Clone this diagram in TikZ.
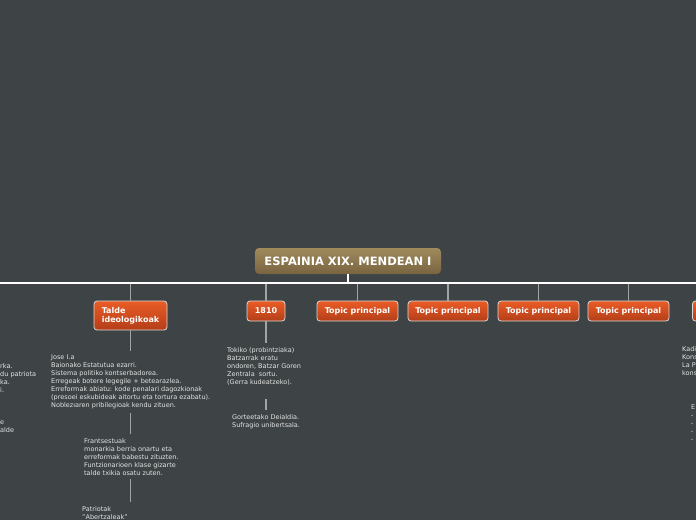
\documentclass[tikz,border=0pt]{standalone}
\usepackage{fontspec}
\setmainfont{DejaVu Sans}
\definecolor{bg}{HTML}{3E4445}
\definecolor{rootTop}{HTML}{A08A5C}
\definecolor{rootBot}{HTML}{786441}
\definecolor{topicTop}{HTML}{EA5C27}
\definecolor{topicBot}{HTML}{B33E18}
\definecolor{topicBorder}{HTML}{DADADA}
\definecolor{lineGray}{HTML}{A2A4A4}
\definecolor{descText}{HTML}{E4E4E4}
\tikzset{
  rootbox/.style={rounded corners=4pt, top color=rootTop, bottom color=rootBot, draw=none,
    minimum width=186pt, minimum height=26pt, inner sep=0pt,
    font=\bfseries\fontsize{11.5}{12}\selectfont, text=white},
  topicbox/.style={rounded corners=3pt, top color=topicTop, bottom color=topicBot,
    draw=topicBorder, line width=0.8pt, minimum height=20pt, inner sep=0pt,
    font=\bfseries\fontsize{8}{9}\selectfont, text=white},
  desc/.style={font=\fontsize{6.5}{8}\selectfont, text=descText, align=left,
    inner xsep=0pt, inner ysep=4pt, anchor=north west},
  conn/.style={draw=lineGray, line width=1.2pt},
  mainline/.style={draw=white, line width=1.8pt}
}
\begin{document}
\begin{tikzpicture}[x=1pt,y=-1pt]
\clip (0,0) rectangle (696,520);
\fill[bg] (0,0) rectangle (696,520);

% root
\node[rootbox] (root) at (348,261) {ESPAINIA XIX. MENDEAN I};
\coordinate (hl) at (0,283);
\coordinate (hr) at (696,283);

% topics
\node[topicbox, minimum width=73pt, minimum height=29pt, align=left] (t1) at (130.5,315.5) {Talde\\ideologikoak};
\node[topicbox, minimum width=38pt] (t2) at (266,311) {1810};
\node[topicbox, minimum width=81pt] (t3) at (357.5,311) {Topic principal};
\node[topicbox, minimum width=80pt] (t4) at (448,311) {Topic principal};
\node[topicbox, minimum width=81pt] (t5) at (538.5,311) {Topic principal};
\node[topicbox, minimum width=81pt] (t6) at (628.5,311) {Topic principal};
\node[topicbox, minimum width=81pt] (t7) at (733,311) {};

% connectors from main line to topics
\foreach \t in {t1,t2,t3,t4,t5,t6,t7}{
  \draw[conn] (\t.north) -- (\t.north |- hl);
}
\draw[mainline] (hl) -- (hr);
\draw[mainline, line width=1.5pt] (root.south) -- (root.south |- hl);

% Talde ideologikoak column
\node[desc] (d1) at (51,351) {Jose I.a\\
Baionako Estatutua ezarri.\\
Sistema politiko kontserbadorea.\\
Erregeak botere legegile + betearazlea.\\
Erreformak abiatu: kode penalari dagozkionak\\
(presoei eskubideak aitortu eta tortura ezabatu).\\
Noblezıaren pribilegioak kendu zituen.};
\node[desc] (d2) at (84,434) {Frantsestuak\\
monarkia berria onartu eta\\
erreformak babestu zituzten.\\
Funtzionarioen klase gizarte\\
talde txikia osatu zuten.};
\node[desc] (d3) at (82,502) {Patriotak\\
"Abertzaleak"};
\draw[conn] (t1.south) -- (t1.south |- d1.north);
\draw[conn] (d1.south -| t1.south) -- (t1.south |- d2.north);
\draw[conn] (d2.south -| t1.south) -- (t1.south |- d3.north);

% 1810 column
\node[desc] (d4) at (227,343) {Tokiko (probintziaka)\\
Batzarrak eratu\\
ondoren, Batzar Goren\\
Zentrala~ sortu.\\
(Gerra kudeatzeko).};
\node[desc] (d5) at (232,410) {Gorteetako Deialdia.\\
Sufragio unibertsala.};
\draw[conn] (t2.south) -- (t2.south |- d4.north);
\draw[conn, shorten <=10pt] (d4.south -| t2.south) -- (t2.south |- d5.north);

% cut-off text at the left edge
\node[desc] (l1) at (0,359) {rka.\\du patriota\\ka.\\i.};
\node[desc] (l2) at (0,417) {e\\alde};

% cut-off text at the right edge
\node[desc] (r1) at (682,342) {Kadi\\Kons\\La P\\kons};
\node[desc] (r2) at (691,401) {E\\-\\-\\-\\-};
\end{tikzpicture}
\end{document}
